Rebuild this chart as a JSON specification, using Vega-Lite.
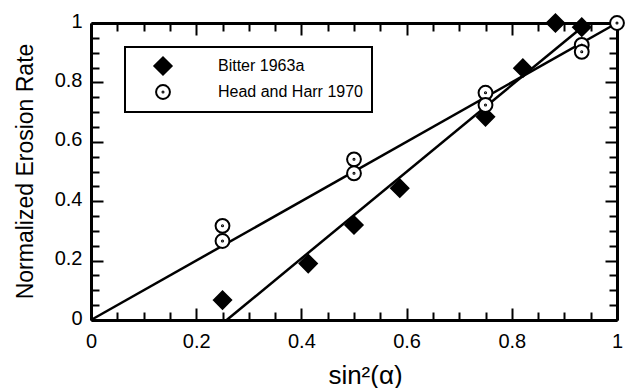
{
  "$schema": "https://vega.github.io/schema/vega-lite/v6.json",
  "autosize": "none",
  "width": 526,
  "height": 297,
  "padding": {"left": 91, "top": 23, "right": 15, "bottom": 68},
  "background": "white",
  "config": {
    "view": {"stroke": null},
    "font": "Liberation Sans",
    "legend": {"strokeWidth": 2},
    "axis": {
      "grid": false,
      "domainColor": "black",
      "domainWidth": 3,
      "tickColor": "black",
      "tickWidth": 2,
      "labelFont": "Liberation Sans",
      "labelFontSize": 20,
      "labelColor": "black",
      "titleFont": "Liberation Sans",
      "titleFontWeight": "normal",
      "titleColor": "black"
    }
  },
  "datasets": {
    "fits": [
      {"series": "Bitter 1963a", "s2": 0.258, "rate": 0.0},
      {"series": "Bitter 1963a", "s2": 0.933, "rate": 0.985},
      {"series": "Head and Harr 1970", "s2": 0.0, "rate": 0.0},
      {"series": "Head and Harr 1970", "s2": 1.0, "rate": 1.0}
    ],
    "measured": [
      {"series": "Bitter 1963a", "s2": 0.25, "rate": 0.067},
      {"series": "Bitter 1963a", "s2": 0.413, "rate": 0.19},
      {"series": "Bitter 1963a", "s2": 0.5, "rate": 0.32},
      {"series": "Bitter 1963a", "s2": 0.587, "rate": 0.444},
      {"series": "Bitter 1963a", "s2": 0.75, "rate": 0.684},
      {"series": "Bitter 1963a", "s2": 0.821, "rate": 0.848},
      {"series": "Bitter 1963a", "s2": 0.883, "rate": 1.0},
      {"series": "Bitter 1963a", "s2": 0.933, "rate": 0.986},
      {"series": "Head and Harr 1970", "s2": 0.25, "rate": 0.317},
      {"series": "Head and Harr 1970", "s2": 0.25, "rate": 0.266},
      {"series": "Head and Harr 1970", "s2": 0.5, "rate": 0.541},
      {"series": "Head and Harr 1970", "s2": 0.5, "rate": 0.494},
      {"series": "Head and Harr 1970", "s2": 0.75, "rate": 0.765},
      {"series": "Head and Harr 1970", "s2": 0.75, "rate": 0.724},
      {"series": "Head and Harr 1970", "s2": 0.933, "rate": 0.926},
      {"series": "Head and Harr 1970", "s2": 0.933, "rate": 0.903},
      {"series": "Head and Harr 1970", "s2": 1.0, "rate": 1.0}
    ]
  },
  "layer": [
    {
      "data": {"name": "fits"},
      "mark": {"type": "line", "color": "black", "strokeWidth": 2.5},
      "encoding": {
        "x": {
          "field": "s2", "type": "quantitative",
          "scale": {"domain": [0, 1], "nice": false, "zero": false},
          "axis": {
            "orient": "bottom",
            "values": [0, 0.05, 0.1, 0.15, 0.2, 0.25, 0.3, 0.35, 0.4, 0.45, 0.5, 0.55, 0.6, 0.65, 0.7, 0.75, 0.8, 0.85, 0.9, 0.95, 1],
            "labelExpr": "round(datum.value * 100) % 20 == 0 ? format(datum.value, '~g') : ''",
            "tickSize": {"condition": {"test": "round(datum.value * 100) % 20 == 0", "value": -12}, "value": -8},
            "labelPadding": 23,
            "labelFlush": false,
            "labelOverlap": false,
            "title": "sin²(α)",
            "titleFontSize": 26,
            "titleBaseline": "alphabetic",
            "titleX": 274,
            "titleY": 63
          }
        },
        "y": {
          "field": "rate", "type": "quantitative",
          "scale": {"domain": [0, 1], "nice": false, "zero": false},
          "axis": {
            "orient": "left",
            "values": [0, 0.05, 0.1, 0.15, 0.2, 0.25, 0.3, 0.35, 0.4, 0.45, 0.5, 0.55, 0.6, 0.65, 0.7, 0.75, 0.8, 0.85, 0.9, 0.95, 1],
            "labelExpr": "round(datum.value * 100) % 20 == 0 ? format(datum.value, '~g') : ''",
            "tickSize": {"condition": {"test": "round(datum.value * 100) % 20 == 0", "value": -12}, "value": -8},
            "labelPadding": 21,
            "labelOffset": -2,
            "labelFlush": false,
            "labelOverlap": false,
            "title": "Normalized Erosion Rate",
            "titleFontSize": 23,
            "titleAngle": -90,
            "titleBaseline": "alphabetic",
            "titleAlign": "center",
            "titleX": -59,
            "titleY": 148
          }
        },
        "detail": {"field": "series", "type": "nominal"}
      }
    },
    {
      "data": {"name": "measured"},
      "mark": {"type": "point", "filled": true, "opacity": 1, "strokeWidth": 2, "size": 300},
      "encoding": {
        "x": {
          "field": "s2", "type": "quantitative",
          "axis": {
            "orient": "top",
            "values": [0, 0.05, 0.1, 0.15, 0.2, 0.25, 0.3, 0.35, 0.4, 0.45, 0.5, 0.55, 0.6, 0.65, 0.7, 0.75, 0.8, 0.85, 0.9, 0.95, 1],
            "tickSize": {"condition": {"test": "round(datum.value * 100) % 20 == 0", "value": -12}, "value": -8},
            "labels": false,
            "title": null
          }
        },
        "y": {
          "field": "rate", "type": "quantitative",
          "axis": {
            "orient": "right",
            "values": [0, 0.05, 0.1, 0.15, 0.2, 0.25, 0.3, 0.35, 0.4, 0.45, 0.5, 0.55, 0.6, 0.65, 0.7, 0.75, 0.8, 0.85, 0.9, 0.95, 1],
            "tickSize": {"condition": {"test": "round(datum.value * 100) % 20 == 0", "value": -12}, "value": -8},
            "labels": false,
            "title": null
          }
        },
        "shape": {
          "field": "series", "type": "nominal",
          "scale": {
            "domain": ["Bitter 1963a", "Head and Harr 1970"],
            "range": ["diamond", "M-0.8,0A0.8,0.8 0 1,0 0.8,0A0.8,0.8 0 1,0 -0.8,0Z M-0.06,0A0.06,0.06 0 1,0 0.06,0A0.06,0.06 0 1,0 -0.06,0Z"]
          },
          "legend": {
            "title": null,
            "orient": "none",
            "legendX": 34,
            "legendY": 24,
            "padding": 9,
            "strokeColor": "black",
            "fillColor": "white",
            "symbolOffset": 19,
            "symbolSize": 300,
            "symbolStrokeWidth": 2,
            "labelOffset": 45,
            "labelFont": "Liberation Sans",
            "labelFontSize": 16,
            "labelColor": "black",
            "rowPadding": 2
          }
        },
        "fill": {
          "field": "series", "type": "nominal",
          "scale": {"domain": ["Bitter 1963a", "Head and Harr 1970"], "range": ["black", "white"]},
          "legend": {"title": null}
        },
        "stroke": {
          "field": "series", "type": "nominal",
          "scale": {"domain": ["Bitter 1963a", "Head and Harr 1970"], "range": ["black", "black"]},
          "legend": {"title": null}
        }
      }
    }
  ],
  "resolve": {"axis": {"x": "independent", "y": "independent"}}
}
